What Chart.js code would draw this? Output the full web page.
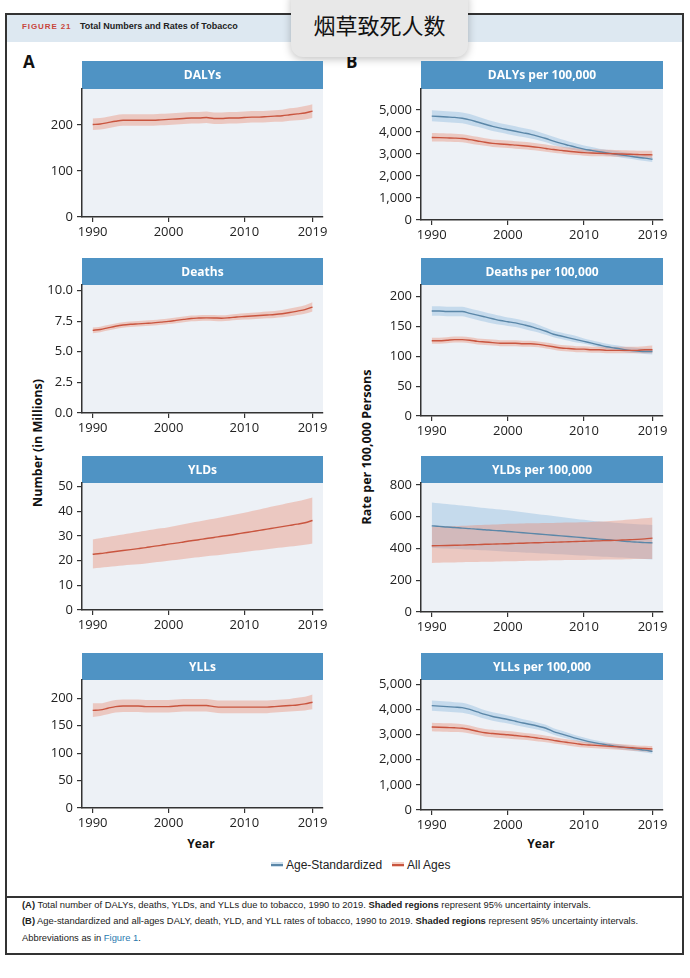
<!DOCTYPE html>
<html><head><meta charset="utf-8">
<script src="https://cdn.jsdelivr.net/npm/chart.js@4.4.1/dist/chart.umd.min.js"></script>
<style>
html,body{margin:0;padding:0;background:#fff;}
body{width:690px;height:978px;position:relative;overflow:hidden;font-family:"Open Sans",sans-serif;color:#222;}
.abs{position:absolute;white-space:nowrap;}
canvas{position:absolute;}
#frame{left:5px;top:13px;width:679px;height:942px;border:2px solid #333;box-sizing:border-box;}
#band{left:7px;top:15px;width:675px;height:27px;background:#dde8f1;}
#fig{left:22px;top:22px;font:bold 8px "Liberation Sans Narrow","Liberation Sans",sans-serif;color:#c8453b;letter-spacing:0.9px;}
#figt{left:80px;top:21px;font:bold 9px "Liberation Sans Narrow","Liberation Sans",sans-serif;color:#222;}
#overlay{left:291px;top:-12px;width:177px;height:69px;background:#e8e8e8;border-radius:12px;box-shadow:0 2px 8px rgba(0,0,0,0.25);}
#overlayText{left:291px;top:8px;width:177px;text-align:center;font:22px "Noto Sans CJK SC",sans-serif;color:#111;}
.letter{font:bold 17px "Open Sans",sans-serif;color:#111;}
.ytitle{font:bold 12.5px "Open Sans",sans-serif;color:#111;transform:translate(-50%,-50%) rotate(-90deg);}
.xtitle{font:bold 12px "Open Sans",sans-serif;color:#111;transform:translate(-50%,-50%);}
#sep{left:5px;top:896px;width:679px;height:2px;background:#333;}
.cap{left:22px;font:9.4px "Liberation Sans Narrow","Liberation Sans",sans-serif;color:#222;}
.cap b{font-weight:bold;}
.cap .lk{color:#2a7ab0;}
#legend{left:271px;top:858px;font:12px "Liberation Sans Narrow","Liberation Sans",sans-serif;color:#222;}
.sw{display:inline-block;width:12px;height:5px;vertical-align:middle;margin:0 3px 2px 0;position:relative;}
.sw i{position:absolute;left:0;top:2px;width:12px;height:1.5px;}
</style></head>
<body>
<div id="frame" class="abs"></div>
<div id="band" class="abs"></div>
<div id="fig" class="abs">FIGURE 21</div>
<div id="figt" class="abs">Total Numbers and Rates of Tobacco</div>
<div class="abs letter" style="left:23px;top:50px;">A</div>
<div class="abs letter" style="left:346px;top:50px;">B</div>
<div class="abs ytitle" style="left:37px;top:443px;">Number (in Millions)</div>
<div class="abs ytitle" style="left:366px;top:447px;">Rate per 100,000 Persons</div>
<div class="abs xtitle" style="left:201px;top:843px;">Year</div>
<div class="abs xtitle" style="left:541px;top:843px;">Year</div>
<div id="legend" class="abs"><span class="sw" style="background:#cfe0ee"><i style="background:#5b87a8"></i></span>Age-Standardized&nbsp;&nbsp;&nbsp;<span class="sw" style="background:#f3cfc4"><i style="background:#c9553f"></i></span>All Ages</div>
<div id="sep" class="abs"></div>
<div class="abs cap" style="top:899px;"><b>(A)</b> Total number of DALYs, deaths, YLDs, and YLLs due to tobacco, 1990 to 2019. <b>Shaded regions</b> represent 95% uncertainty intervals.</div>
<div class="abs cap" style="top:915px;"><b>(B)</b> Age-standardized and all-ages DALY, death, YLD, and YLL rates of tobacco, 1990 to 2019. <b>Shaded regions</b> represent 95% uncertainty intervals.</div>
<div class="abs cap" style="top:932px;">Abbreviations as in <span class="lk">Figure 1</span>.</div>
<div id="overlay" class="abs"></div>
<div id="overlayText" class="abs">烟草致死人数</div>
<script>
// ---------- DATA ----------
const years = [1990,1991,1992,1993,1994,1995,1996,1997,1998,1999,2000,2001,2002,2003,2004,2005,2006,2007,2008,2009,2010,2011,2012,2013,2014,2015,2016,2017,2018,2019];
const xTickYears = [1990,2000,2010,2019];

// A: totals (all ages), millions
const dalysMid = [201,202,205,208,210,210,210,210,210,211,212,213,214,215,215,216,214,214,215,215,216,217,217,218,219,220,222,224,226,230];
const dalysLo  = [189,190,193,196,198,198,198,198,198,199,200,201,202,203,203,204,202,202,203,203,204,205,205,206,207,207,209,210,212,215];
const dalysHi  = [214,215,218,221,223,223,223,223,223,224,225,226,227,228,228,229,227,227,228,228,229,230,230,231,232,233,236,238,241,245];

const deathsMid = [6.75,6.82,6.95,7.08,7.18,7.24,7.28,7.32,7.36,7.42,7.48,7.56,7.64,7.72,7.75,7.77,7.76,7.74,7.78,7.84,7.88,7.92,7.96,8.00,8.04,8.10,8.20,8.32,8.44,8.65];
const deathsLo  = [6.52,6.60,6.73,6.86,6.96,7.02,7.06,7.10,7.14,7.20,7.26,7.33,7.41,7.49,7.52,7.54,7.52,7.50,7.54,7.59,7.63,7.66,7.69,7.73,7.76,7.81,7.89,8.00,8.10,8.28];
const deathsHi  = [6.98,7.05,7.18,7.31,7.41,7.47,7.51,7.55,7.59,7.65,7.71,7.80,7.88,7.96,7.99,8.01,8.00,7.98,8.03,8.09,8.14,8.18,8.23,8.28,8.33,8.41,8.53,8.66,8.80,9.05];

const yldsMid = [22.6,22.9,23.3,23.7,24.1,24.5,24.9,25.3,25.8,26.2,26.7,27.1,27.6,28.1,28.5,29.0,29.4,29.9,30.3,30.8,31.3,31.8,32.3,32.8,33.3,33.8,34.3,34.8,35.4,36.3];
const yldsLo  = [16.8,17.1,17.4,17.7,18.0,18.3,18.6,18.9,19.3,19.6,20.0,20.3,20.7,21.1,21.4,21.8,22.1,22.4,22.8,23.1,23.5,23.9,24.2,24.6,25.0,25.3,25.7,26.1,26.5,27.0];
const yldsHi  = [28.6,29.1,29.6,30.1,30.6,31.1,31.6,32.1,32.6,33.1,33.6,34.2,34.8,35.4,35.9,36.5,37.0,37.6,38.2,38.8,39.4,40.1,40.8,41.5,42.2,42.8,43.5,44.1,44.8,45.6];

const yllsMid = [178,179,182,185,186,186,186,185,185,185,185,186,187,187,187,187,185,184,184,184,184,184,184,184,185,186,187,188,190,193];
const yllsLo  = [166,168,171,174,175,175,175,174,174,174,174,175,176,176,176,176,174,173,173,173,173,173,173,173,174,175,176,177,178,180];
const yllsHi  = [191,191,194,197,198,198,198,197,197,197,197,198,199,199,199,199,197,196,196,196,196,196,196,196,197,198,199,201,203,207];

// B: rates per 100,000 (age-standardized = AS, all ages = AA)
const dalyRateAS   = [4720,4700,4680,4660,4620,4550,4450,4350,4250,4170,4100,4030,3960,3890,3800,3700,3580,3480,3390,3300,3220,3160,3100,3050,3000,2950,2900,2850,2810,2760];
const dalyRateASLo = [4480,4460,4440,4420,4390,4320,4230,4140,4040,3970,3900,3830,3770,3700,3620,3530,3410,3320,3240,3160,3090,3030,2980,2930,2880,2830,2780,2730,2680,2630];
const dalyRateASHi = [4980,4960,4940,4920,4880,4810,4700,4590,4480,4400,4330,4260,4180,4110,4010,3900,3780,3670,3570,3470,3380,3310,3240,3190,3140,3090,3040,2990,2940,2890];
const dalyRateAA   = [3750,3740,3730,3720,3700,3650,3590,3530,3480,3450,3430,3400,3370,3340,3300,3250,3200,3160,3120,3090,3060,3040,3030,3020,3010,2995,2985,2975,2965,2960];
const dalyRateAALo = [3570,3560,3550,3540,3530,3480,3420,3370,3320,3290,3270,3240,3210,3180,3150,3100,3060,3020,2980,2950,2920,2900,2890,2880,2870,2860,2850,2840,2830,2820];
const dalyRateAAHi = [3950,3940,3930,3920,3890,3840,3780,3710,3660,3630,3610,3580,3550,3520,3480,3430,3370,3330,3290,3260,3230,3210,3200,3190,3180,3170,3160,3150,3140,3140];

const deathRateAS   = [176,176,175,175,175,172,169,166,163,160,158,156,153,150,146,142,137,134,131,128,125,122,119,116,114,112,110,109,108,108];
const deathRateASLo = [168,168,167,167,167,164,161,158,155,153,151,149,146,143,140,136,132,129,126,123,121,118,115,112,110,108,106,105,104,103];
const deathRateASHi = [184,184,183,183,183,180,177,174,171,168,165,163,160,157,153,148,143,140,137,134,130,127,124,121,119,117,115,114,113,113];
const deathRateAA   = [126,126,127,128,128,127,125,124,123,122,122,122,121,121,120,118,116,114,113,112,112,111,111,110,110,110,110,110,111,111];
const deathRateAALo = [121,121,122,123,123,122,120,119,118,117,117,117,116,116,115,113,111,109,108,107,107,106,106,105,105,105,105,105,105,105];
const deathRateAAHi = [131,131,132,133,133,132,130,129,128,127,127,127,126,126,125,123,121,119,118,117,117,116,116,116,116,116,116,116,117,118];

const yldRateAS   = [542,539,535,532,528,525,521,518,514,511,507,503,499,495,491,487,483,479,475,471,467,463,459,455,451,447,443,440,437,435];
const yldRateASLo = [405,402,400,398,395,393,390,388,385,383,380,378,375,373,370,368,365,363,360,358,355,353,350,348,345,343,340,337,334,330];
const yldRateASHi = [690,685,680,675,670,665,660,655,650,645,640,634,628,622,616,610,604,598,592,586,580,575,570,566,562,558,555,552,550,548];
const yldRateAA   = [417,418,419,420,421,423,424,426,427,429,430,432,433,435,436,438,439,441,442,444,445,447,448,450,451,453,455,457,460,465];
const yldRateAALo = [309,310,311,312,313,314,315,316,317,318,319,320,321,322,323,324,325,326,327,327,328,329,329,330,331,331,332,333,333,334];
const yldRateAAHi = [535,537,539,541,543,545,547,549,551,553,555,556,557,558,559,560,561,562,563,564,565,567,569,572,575,578,582,586,590,595];

const yllRateAS   = [4150,4130,4110,4090,4070,4000,3900,3800,3720,3660,3600,3530,3460,3400,3330,3250,3120,3030,2940,2850,2770,2700,2640,2590,2540,2500,2460,2420,2380,2330];
const yllRateASLo = [3950,3930,3910,3890,3870,3810,3720,3630,3550,3490,3440,3370,3310,3250,3190,3110,2990,2900,2820,2740,2660,2600,2540,2500,2450,2410,2370,2330,2290,2240];
const yllRateASHi = [4350,4330,4310,4290,4270,4190,4080,3970,3890,3830,3760,3690,3610,3550,3470,3390,3250,3160,3060,2960,2880,2800,2740,2680,2630,2590,2550,2510,2470,2420];
const yllRateAA   = [3300,3290,3280,3270,3250,3200,3130,3070,3040,3010,2990,2960,2930,2900,2860,2820,2770,2720,2680,2640,2600,2580,2560,2540,2520,2500,2480,2460,2445,2430];
const yllRateAALo = [3130,3120,3110,3100,3090,3040,2980,2920,2890,2860,2840,2810,2790,2760,2720,2690,2640,2600,2560,2520,2490,2470,2450,2430,2410,2390,2370,2350,2330,2310];
const yllRateAAHi = [3470,3460,3450,3440,3410,3360,3280,3220,3190,3160,3140,3110,3070,3040,3000,2950,2900,2840,2800,2760,2710,2690,2670,2650,2630,2610,2590,2570,2560,2550];

// tick labels
const ticksDALYs = [0,100,200];
const ticksDeaths = [0,2.5,5,7.5,10];
const ticksYLDs = [0,10,20,30,40,50];
const ticksYLLs = [0,50,100,150,200];
const ticksDALYRate = [0,1000,2000,3000,4000,5000];
const ticksDeathRate = [0,50,100,150,200];
const ticksYLDRate = [0,200,400,600,800];
const ticksYLLRate = [0,1000,2000,3000,4000,5000];

// ---------- STYLE ----------
const RED = '#c9553f', RED_BAND = 'rgba(232,128,100,0.36)';
const BLUE = '#5b87a8', BLUE_BAND = 'rgba(128,178,218,0.36)';
const PLOT_BG = '#edf1f6', HEAD_BG = '#4f93c4';

const deco = {
  id: 'panelDeco',
  beforeDraw(chart, args, o) {
    const {ctx, chartArea: a} = chart;
    ctx.save();
    ctx.fillStyle = PLOT_BG;
    ctx.fillRect(a.left, a.top, a.right - a.left, a.bottom - a.top);
    ctx.fillStyle = HEAD_BG;
    ctx.fillRect(a.left, a.top - o.h, a.right - a.left, o.h);
    ctx.fillStyle = '#fff';
    ctx.font = 'bold 12px "Open Sans"';
    ctx.textAlign = 'center';
    ctx.textBaseline = 'middle';
    ctx.fillText(o.text, (a.left + a.right) / 2, a.top - o.h / 2 + 1);
    ctx.restore();
  }
};

function pts(arr) { return arr.map((v, i) => ({x: years[i], y: v})); }

function bandSets(lo, hi, color, ord) {
  return [
    {data: pts(lo), borderWidth: 0, pointRadius: 0, fill: false, order: ord + 1, cubicInterpolationMode: 'monotone'},
    {data: pts(hi), borderWidth: 0, pointRadius: 0, fill: '-1', backgroundColor: color, order: ord, cubicInterpolationMode: 'monotone'}
  ];
}
function lineSet(mid, color, ord) {
  return {data: pts(mid), borderColor: color, borderWidth: 1.4, pointRadius: 0, fill: false, order: ord, cubicInterpolationMode: 'monotone'};
}

function makePanel(p) {
  const W = 313, axisH = 30;
  const H = (p.bottom - p.headerTop) + axisH;
  const c = document.createElement('canvas');
  c.width = W; c.height = H;
  c.style.left = p.left + 'px'; c.style.top = p.headerTop + 'px';
  c.style.width = W + 'px'; c.style.height = H + 'px';
  document.body.appendChild(c);
  const padTop = p.plotTop - p.headerTop;
  const tickFont = {family: 'Open Sans', size: 13};
  new Chart(c, {
    type: 'line',
    data: {datasets: p.datasets},
    plugins: [deco],
    options: {
      responsive: false, animation: false, devicePixelRatio: 1,
      layout: {padding: {top: padTop, right: 10, left: 0, bottom: 0}},
      plugins: {legend: {display: false}, tooltip: {enabled: false}, panelDeco: {text: p.title, h: padTop}},
      scales: {
        x: {
          type: 'linear', min: 1988.59, max: 2020.38,
          afterBuildTicks: s => { s.ticks = xTickYears.map(v => ({value: v})); },
          afterFit: s => { s.height = axisH; },
          grid: {display: true, drawOnChartArea: false, drawTicks: true, tickLength: 5, color: '#333', lineWidth: 1.2},
          border: {display: true, color: '#333', width: 1.5},
          ticks: {color: '#222', font: tickFont, padding: 2, maxRotation: 0, autoSkip: false, callback: v => String(v)}
        },
        y: {
          min: 0, max: p.ymax,
          afterBuildTicks: s => { s.ticks = p.ticks.map(v => ({value: v})); },
          afterFit: s => { s.width = p.yw; },
          grid: {display: true, drawOnChartArea: false, drawTicks: true, tickLength: 5, color: '#333', lineWidth: 1.2},
          border: {display: true, color: '#333', width: 1.5},
          ticks: {color: '#222', font: tickFont, padding: 4, autoSkip: false, callback: p.fmt}
        }
      }
    }
  });
}

const fmtInt = v => String(v);
const fmt1 = v => v.toFixed(1);
const fmtComma = v => v.toLocaleString('en-US');

const panels = [
  {left: 20, yw: 62, headerTop: 61, plotTop: 89, bottom: 217, ymax: 278, ticks: ticksDALYs, fmt: fmtInt, title: 'DALYs',
   datasets: [...bandSets(dalysLo, dalysHi, RED_BAND, 7), lineSet(dalysMid, RED, 1)]},
  {left: 20, yw: 62, headerTop: 258, plotTop: 285, bottom: 413, ymax: 10.45, ticks: ticksDeaths, fmt: fmt1, title: 'Deaths',
   datasets: [...bandSets(deathsLo, deathsHi, RED_BAND, 7), lineSet(deathsMid, RED, 1)]},
  {left: 20, yw: 62, headerTop: 456, plotTop: 483, bottom: 610, ymax: 51.5, ticks: ticksYLDs, fmt: fmtInt, title: 'YLDs',
   datasets: [...bandSets(yldsLo, yldsHi, RED_BAND, 7), lineSet(yldsMid, RED, 1)]},
  {left: 20, yw: 62, headerTop: 653, plotTop: 680, bottom: 808, ymax: 233.5, ticks: ticksYLLs, fmt: fmtInt, title: 'YLLs',
   datasets: [...bandSets(yllsLo, yllsHi, RED_BAND, 7), lineSet(yllsMid, RED, 1)]},
  {left: 360, yw: 61, headerTop: 61, plotTop: 89, bottom: 220, ymax: 5950, ticks: ticksDALYRate, fmt: fmtComma, title: 'DALYs per 100,000',
   datasets: [...bandSets(dalyRateASLo, dalyRateASHi, BLUE_BAND, 9), ...bandSets(dalyRateAALo, dalyRateAAHi, RED_BAND, 7), lineSet(dalyRateAS, BLUE, 2), lineSet(dalyRateAA, RED, 1)]},
  {left: 360, yw: 61, headerTop: 258, plotTop: 285, bottom: 416, ymax: 219.5, ticks: ticksDeathRate, fmt: fmtInt, title: 'Deaths per 100,000',
   datasets: [...bandSets(deathRateASLo, deathRateASHi, BLUE_BAND, 9), ...bandSets(deathRateAALo, deathRateAAHi, RED_BAND, 7), lineSet(deathRateAS, BLUE, 2), lineSet(deathRateAA, RED, 1)]},
  {left: 360, yw: 61, headerTop: 456, plotTop: 483, bottom: 612, ymax: 812, ticks: ticksYLDRate, fmt: fmtInt, title: 'YLDs per 100,000',
   datasets: [...bandSets(yldRateASLo, yldRateASHi, BLUE_BAND, 9), ...bandSets(yldRateAALo, yldRateAAHi, RED_BAND, 7), lineSet(yldRateAS, BLUE, 2), lineSet(yldRateAA, RED, 1)]},
  {left: 360, yw: 61, headerTop: 653, plotTop: 680, bottom: 810, ymax: 5170, ticks: ticksYLLRate, fmt: fmtComma, title: 'YLLs per 100,000',
   datasets: [...bandSets(yllRateASLo, yllRateASHi, BLUE_BAND, 9), ...bandSets(yllRateAALo, yllRateAAHi, RED_BAND, 7), lineSet(yllRateAS, BLUE, 2), lineSet(yllRateAA, RED, 1)]}
];
panels.forEach(makePanel);
</script>
</body></html>
